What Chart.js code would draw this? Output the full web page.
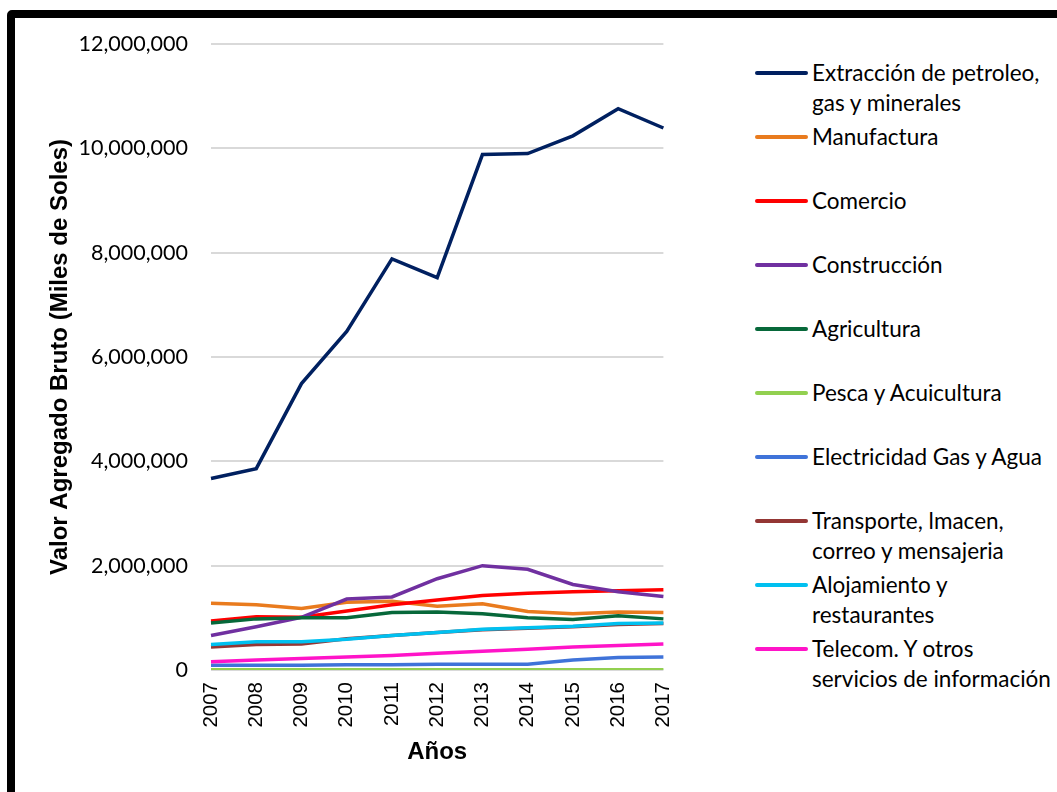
<!DOCTYPE html>
<html>
<head>
<meta charset="utf-8">
<script src="https://cdn.jsdelivr.net/npm/chart.js@4.4.1/dist/chart.umd.min.js"></script>
<style>
  html, body { margin: 0; padding: 0; background: #fff; overflow: hidden; }
  #wrap { position: relative; width: 1057px; height: 792px; }
  #chart { position: absolute; left: 0; top: 0; }
  #frame {
    position: absolute; left: 7px; top: 10px; width: 1100px; height: 850px;
    border: 8px solid #000; border-radius: 5px; pointer-events: none;
  }
  #legend { position: absolute; left: 755px; top: 58px; font-family: Lato, sans-serif; font-size: 22.5px; color: #000; }
  .item { position: relative; height: 64px; }
  .swatch { position: absolute; left: 0; top: 13px; width: 53px; height: 4px; border-radius: 2px; }
  .label { position: absolute; left: 57px; top: 0; line-height: 30px; width: 260px; white-space: nowrap; }
</style>
</head>
<body>
<div id="wrap">
  <canvas id="chart" width="700" height="792"></canvas>
  <div id="legend"></div>
  <div id="frame"></div>
</div>
<script>
const years = ["2007", "2008", "2009", "2010", "2011", "2012", "2013", "2014", "2015", "2016", "2017"];

const seriesNames = [
  "Extracción de petroleo, gas y minerales",
  "Manufactura",
  "Comercio",
  "Construcción",
  "Agricultura",
  "Pesca y Acuicultura",
  "Electricidad Gas y Agua",
  "Transporte, lmacen, correo y mensajeria",
  "Alojamiento y restaurantes",
  "Telecom. Y otros servicios de información"
];

const extraccion = [3670000, 3860000, 5490000, 6490000, 7880000, 7520000, 9880000, 9900000, 10240000, 10760000, 10390000];
const manufactura = [1280000, 1250000, 1180000, 1300000, 1320000, 1220000, 1270000, 1120000, 1080000, 1110000, 1100000];
const comercio = [940000, 1020000, 1010000, 1130000, 1250000, 1340000, 1430000, 1470000, 1500000, 1520000, 1540000];
const construccion = [660000, 830000, 1010000, 1360000, 1400000, 1750000, 2000000, 1930000, 1640000, 1500000, 1410000];
const agricultura = [900000, 980000, 1000000, 1000000, 1100000, 1110000, 1080000, 1000000, 970000, 1040000, 980000];
const pesca = [5000, 5000, 5000, 5000, 5000, 5000, 5000, 5000, 5000, 5000, 5000];
const electricidad = [90000, 90000, 90000, 100000, 100000, 110000, 110000, 110000, 190000, 240000, 250000];
const transporte = [440000, 490000, 500000, 600000, 660000, 720000, 770000, 800000, 830000, 870000, 890000];
const alojamiento = [490000, 540000, 540000, 590000, 660000, 720000, 780000, 810000, 840000, 890000, 900000];
const telecom = [160000, 190000, 220000, 250000, 280000, 320000, 360000, 400000, 440000, 470000, 500000];

const seriesValues = [extraccion, manufactura, comercio, construccion, agricultura, pesca, electricidad, transporte, alojamiento, telecom];
const seriesColors = ["#002060", "#E97B1E", "#FF0000", "#7030A0", "#07683A", "#92D050", "#3F73D9", "#943634", "#00C0F0", "#FF14C8"];

const legendLines = [
  ["Extracción de petroleo,", "gas y minerales"],
  ["Manufactura"],
  ["Comercio"],
  ["Construcción"],
  ["Agricultura"],
  ["Pesca y Acuicultura"],
  ["Electricidad Gas y Agua"],
  ["Transporte, lmacen,", "correo y mensajeria"],
  ["Alojamiento y", "restaurantes"],
  ["Telecom. Y otros", "servicios de información"]
];

const yTicks = [0, 2000000, 4000000, 6000000, 8000000, 10000000, 12000000];

const legend = document.getElementById("legend");
seriesNames.forEach((name, i) => {
  const item = document.createElement("div");
  item.className = "item";
  const swatch = document.createElement("div");
  swatch.className = "swatch";
  swatch.style.background = seriesColors[i];
  const label = document.createElement("div");
  label.className = "label";
  label.innerHTML = legendLines[i].join("<br>");
  item.appendChild(swatch);
  item.appendChild(label);
  legend.appendChild(item);
});

new Chart(document.getElementById("chart"), {
  type: "line",
  data: {
    labels: years,
    datasets: seriesNames.map((name, i) => ({
      label: name,
      data: seriesValues[i],
      borderColor: seriesColors[i],
      backgroundColor: seriesColors[i],
      borderWidth: 3.5,
      pointRadius: 0,
      tension: 0,
      fill: false,
      order: seriesNames.length - i
    }))
  },
  options: {
    responsive: false,
    devicePixelRatio: 1,
    animation: false,
    layout: { padding: { left: 0, top: 44, right: 36, bottom: 0 } },
    plugins: { legend: { display: false }, tooltip: { enabled: false } },
    scales: {
      x: {
        grid: { display: false, drawTicks: false },
        border: { display: false },
        ticks: {
          minRotation: 90,
          maxRotation: 90,
          padding: 12,
          color: "#000",
          font: { family: "'Liberation Sans', Arial, sans-serif", size: 20.5 }
        },
        title: {
          display: true,
          text: "Años",
          color: "#000",
          padding: { top: 0, bottom: 25 },
          font: { family: "'Liberation Sans', Arial, sans-serif", size: 24, weight: "bold" }
        },
        afterFit: (scale) => { scale.height = 122; }
      },
      y: {
        min: 0,
        max: 12000000,
        afterBuildTicks: (scale) => { scale.ticks = yTicks.map((v) => ({ value: v })); },
        grid: { color: "#d9d9d9", lineWidth: 2, drawTicks: false },
        border: { display: false },
        ticks: {
          padding: 23,
          color: "#000",
          font: { family: "Lato, sans-serif", size: 21.5 },
          callback: (value) => Number(value).toLocaleString("en-US")
        },
        title: {
          display: true,
          text: "Valor Agregado Bruto (Miles de Soles)",
          color: "#000",
          padding: { top: 46, bottom: 0 },
          font: { family: "'Liberation Sans', Arial, sans-serif", size: 24, weight: "bold" }
        },
        afterFit: (scale) => { scale.width = 211; }
      }
    }
  }
});
</script>
</body>
</html>
